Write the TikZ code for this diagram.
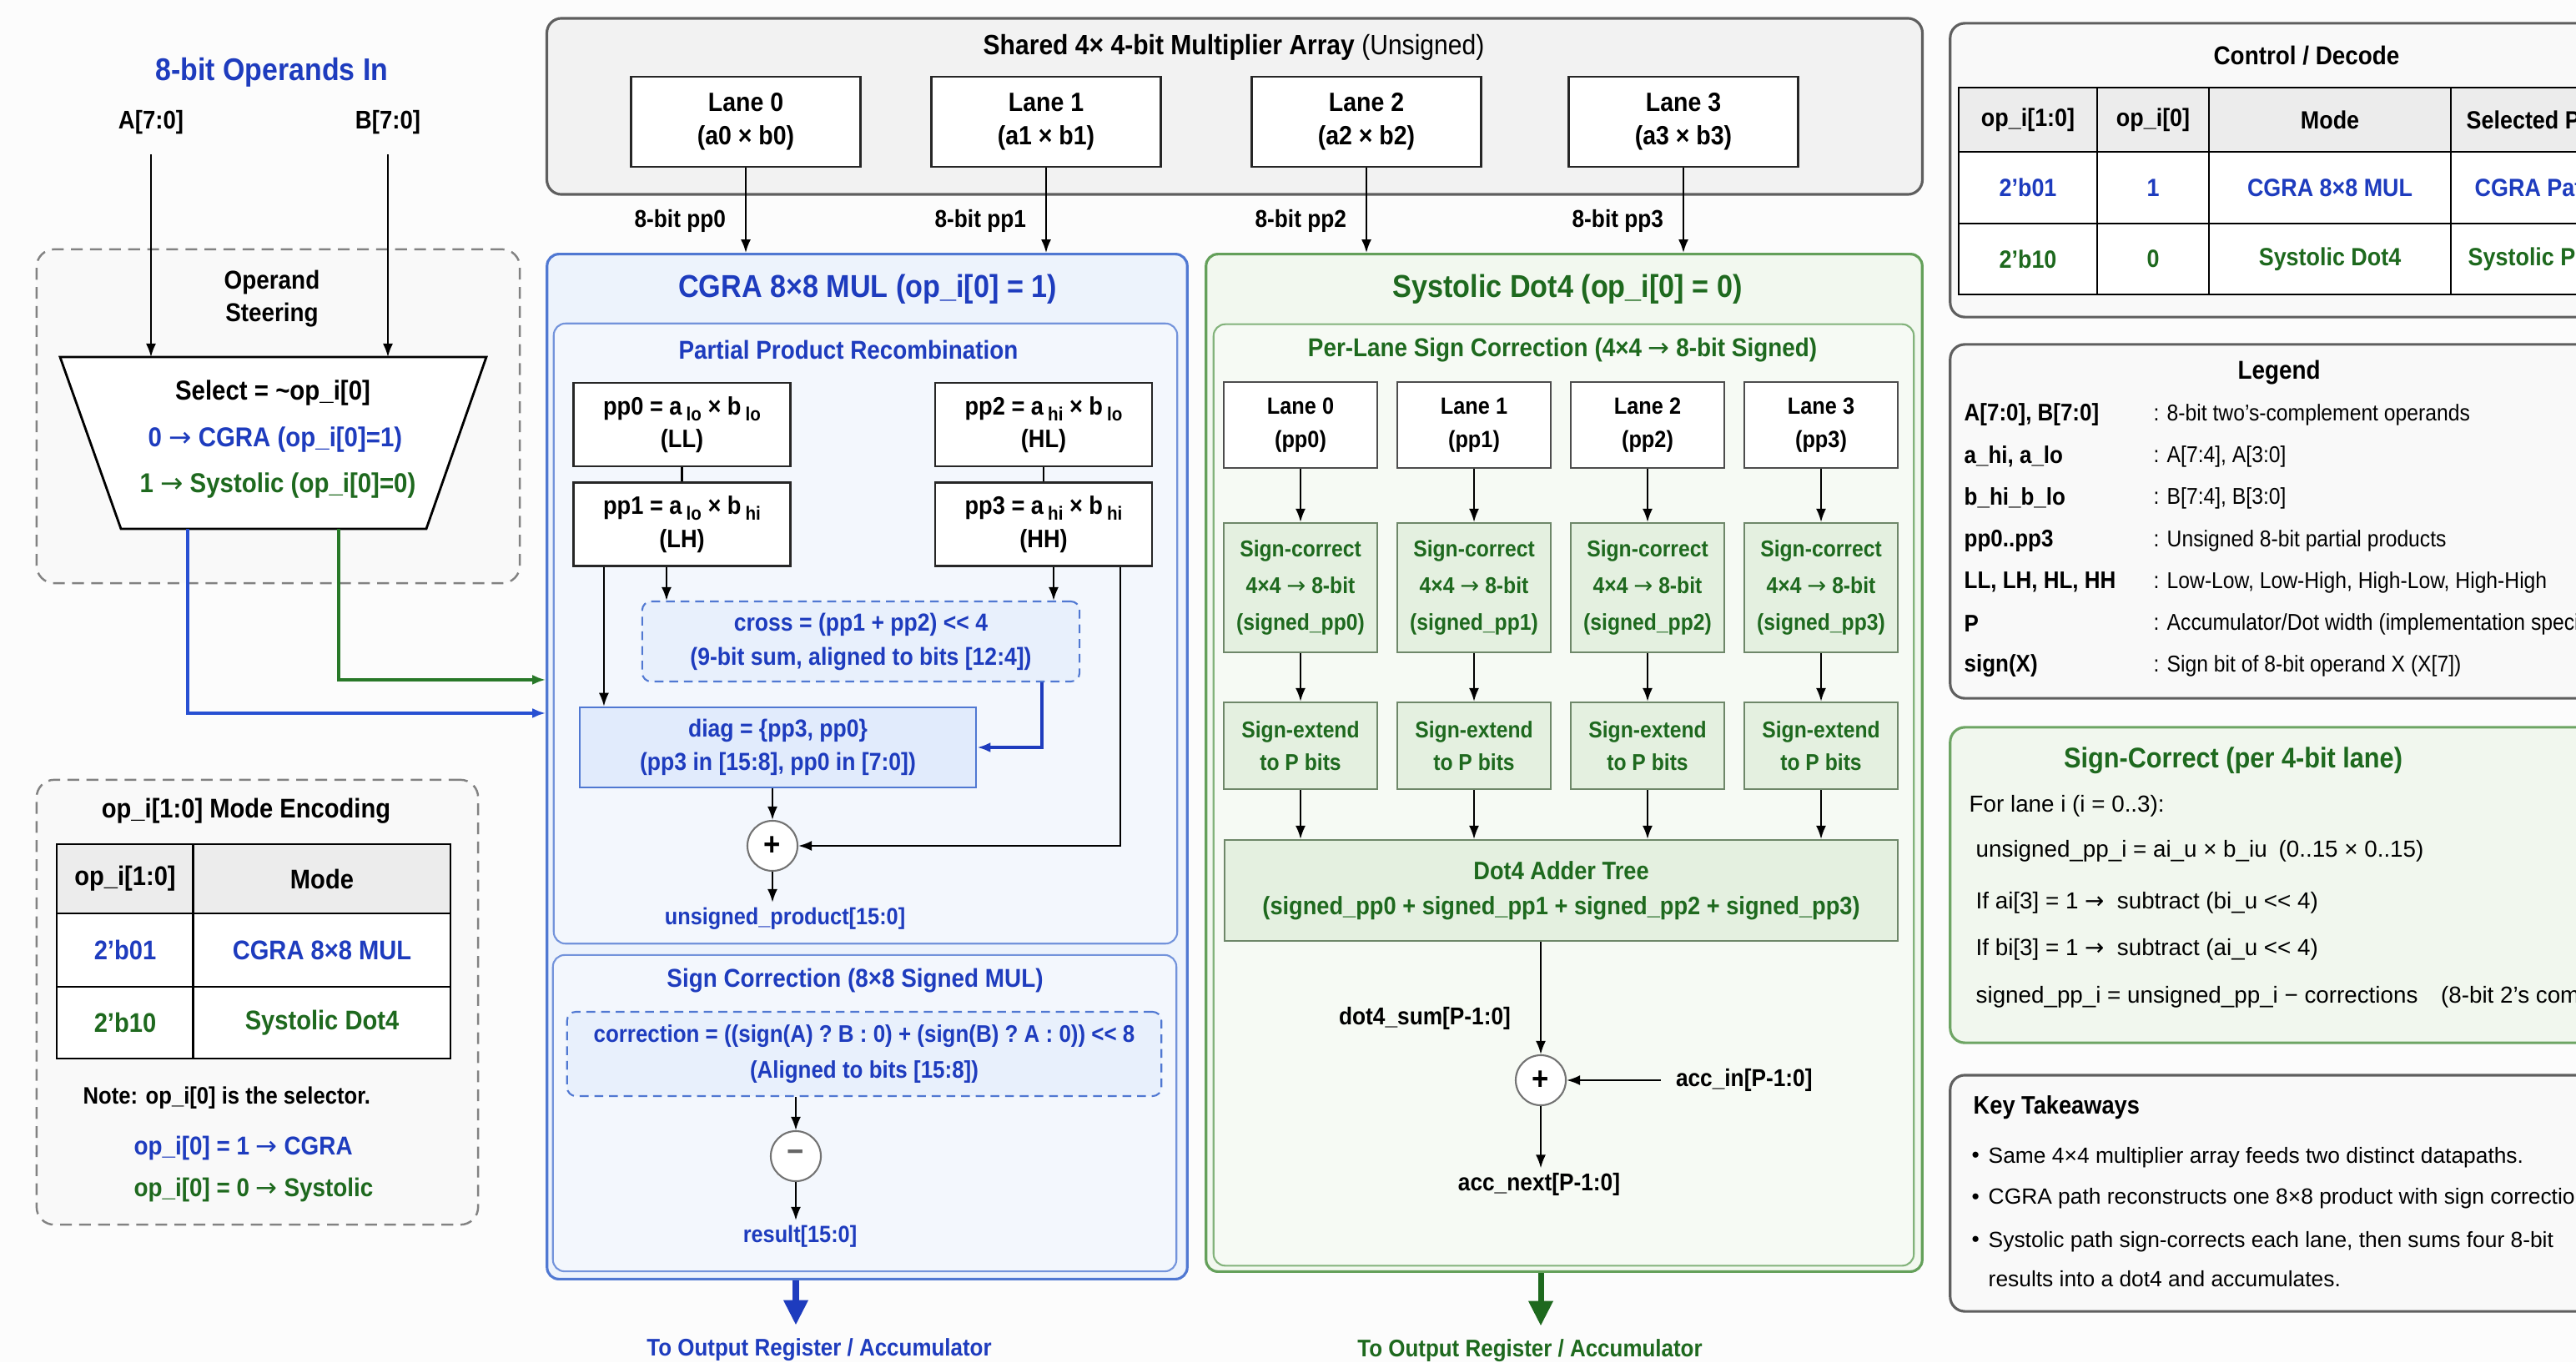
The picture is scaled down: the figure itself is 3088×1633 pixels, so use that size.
\documentclass[tikz,border=0pt]{standalone}
\usepackage{fontspec}
\setmainfont{Liberation Sans}[FakeStretch=0.9]
\newfontfamily\bodyfont{Liberation Sans}
\newfontfamily\arrowfont{DejaVu Sans}
\usetikzlibrary{arrows.meta,positioning,calc}

\definecolor{bgColor}{RGB}{252,252,252}
\definecolor{cgraBlue}{RGB}{30,60,190}
\definecolor{dotGreen}{RGB}{30,105,30}
\definecolor{cgraLine}{RGB}{80,120,210}
\definecolor{cgraFill}{RGB}{237,243,252}
\definecolor{cgraInFill}{RGB}{243,247,253}
\definecolor{crossFill}{RGB}{232,240,252}
\definecolor{diagFill}{RGB}{225,235,252}
\definecolor{sysLine}{RGB}{100,160,90}
\definecolor{sysFill}{RGB}{242,248,239}
\definecolor{sysInFill}{RGB}{246,250,244}
\definecolor{sBoxLine}{RGB}{110,135,105}
\definecolor{sBoxFill}{RGB}{228,240,224}
\definecolor{panelLine}{RGB}{95,95,95}
\definecolor{arrayFill}{RGB}{242,242,242}
\definecolor{sideFill}{RGB}{249,249,249}
\definecolor{dashLine}{RGB}{130,130,130}
\definecolor{headFill}{RGB}{236,236,236}
\definecolor{scLine}{RGB}{110,165,100}
\definecolor{scFill}{RGB}{241,247,238}
\definecolor{selBlue}{RGB}{40,80,210}
\definecolor{selGreen}{RGB}{40,120,40}

\newcommand{\lsub}[1]{\,\raisebox{-0.45ex}{\fontsize{6.5}{7}\selectfont #1}}
\newcommand{\shl}{<\kern0pt<}
\newcommand{\rarr}{{\arrowfont\mdseries →}}

\tikzset{
  every node/.style={inner sep=0pt, font=\fontsize{8.5}{11}\selectfont\bfseries},
  lbl/.style={inner sep=1.5pt},
  grayPanel/.style={draw=panelLine, fill=arrayFill, line width=0.9pt, rounded corners=5pt},
  sidePanel/.style={draw=panelLine, fill=sideFill, line width=0.9pt, rounded corners=5pt},
  dashPanel/.style={draw=dashLine, fill=sideFill, line width=0.7pt, dash pattern=on 4pt off 2.5pt, rounded corners=6pt},
  cgraPanel/.style={draw=cgraLine, fill=cgraFill, line width=0.9pt, rounded corners=4pt},
  cgraInner/.style={draw=cgraLine!80, fill=cgraInFill, line width=0.6pt, rounded corners=4pt},
  sysPanel/.style={draw=sysLine, fill=sysFill, line width=0.9pt, rounded corners=4pt},
  sysInner/.style={draw=sysLine!80, fill=sysInFill, line width=0.6pt, rounded corners=4pt},
  laneBox/.style={draw=black!85, fill=white, line width=0.7pt, align=center, minimum width=2.75cm, minimum height=1.08cm, font=\fontsize{9}{11.4}\selectfont\bfseries},
  ppBox/.style={draw=black!85, fill=white, line width=0.7pt, align=center, minimum width=2.6cm, minimum height=1cm, font=\fontsize{8.6}{11.2}\selectfont\bfseries},
  eqBox/.style={draw=cgraLine, fill=crossFill, dash pattern=on 3pt off 2pt, line width=0.6pt, rounded corners=3pt, align=center, text=cgraBlue, font=\fontsize{8.4}{11.7}\selectfont\bfseries},
  diagBox/.style={draw=cgraLine, fill=diagFill, line width=0.7pt, align=center, text=cgraBlue, font=\fontsize{8.4}{11.4}\selectfont\bfseries},
  sLane/.style={draw=black!70, fill=white, line width=0.6pt, align=center, minimum width=1.84cm, minimum height=1.03cm, font=\fontsize{8}{11.5}\selectfont\bfseries},
  sBox/.style={draw=sBoxLine, fill=sBoxFill, line width=0.6pt, align=center, minimum width=1.84cm, text=dotGreen, font=\fontsize{7.8}{12.6}\selectfont\bfseries},
  sumNode/.style={circle, draw=black!55, fill=white, line width=0.6pt, minimum size=0.6cm, font=\fontsize{11}{11}\selectfont\bfseries},
  flow/.style={-{Latex[length=1.6mm,width=1.2mm]}, line width=0.6pt},
  cgraFlow/.style={flow, draw=cgraBlue, line width=1pt},
  selFlowB/.style={flow, draw=selBlue, line width=0.9pt},
  selFlowG/.style={flow, draw=selGreen, line width=0.9pt},
  outFlow/.style={-{Triangle[length=3mm,width=2.8mm]}, line width=2pt},
  cell/.style={font=\fontsize{9.2}{11}\selectfont\bfseries},
  ctrlCell/.style={font=\fontsize{8.5}{10}\selectfont\bfseries},
  legKey/.style={anchor=west, font=\fontsize{8.2}{10}\selectfont\bfseries},
  legVal/.style={anchor=west, font=\fontsize{7.8}{10}\selectfont\mdseries},
  bodyText/.style={anchor=west, font=\bodyfont\fontsize{7.9}{10}\selectfont},
  ktText/.style={anchor=west, font=\bodyfont\fontsize{7.5}{10}\selectfont},
}

\begin{document}
\begin{tikzpicture}[x=0.01cm,y=-0.01cm]
  % page and background
  \useasboundingbox (0,0) rectangle (3088,1633);
  \clip (0,0) rectangle (3088,1633);
  \fill[bgColor] (0,0) rectangle (3088,1633);

  % Shared multiplier array
  \node[grayPanel, minimum width=16.48cm, minimum height=2.11cm] (mulArray) at (1480,127.5) {};
  \node[font=\fontsize{9.5}{11}\selectfont\bfseries] (arrayTitle) at (1479,57) {Shared 4× 4-bit Multiplier Array {\mdseries (Unsigned)}};
  \node[laneBox] (lane0) at (894,146) {Lane 0\\(a0 × b0)};
  \node[laneBox] (lane1) at (1254,146) {Lane 1\\(a1 × b1)};
  \node[laneBox] (lane2) at (1638,146) {Lane 2\\(a2 × b2)};
  \node[laneBox] (lane3) at (2018,146) {Lane 3\\(a3 × b3)};

  % CGRA datapath
  \node[cgraPanel, minimum width=7.67cm, minimum height=12.28cm] (cgra) at (1039.5,919) {};
  \node[text=cgraBlue, font=\fontsize{10.8}{13}\selectfont\bfseries] (cgraTitle) at (1040,347) {CGRA 8×8 MUL (op\_i[0] = 1)};
  \node[cgraInner, minimum width=7.47cm, minimum height=7.43cm] (ppr) at (1037.5,759.5) {};
  \node[text=cgraBlue, font=\fontsize{8.8}{11}\selectfont\bfseries] (pprTitle) at (1017,419) {Partial Product Recombination};
  \node[ppBox] (pp0) at (817.5,509) {pp0 = a\lsub{lo} × b\lsub{lo}\\(LL)};
  \node[ppBox] (pp1) at (817.5,628.5) {pp1 = a\lsub{lo} × b\lsub{hi}\\(LH)};
  \node[ppBox] (pp2) at (1251,509) {pp2 = a\lsub{hi} × b\lsub{lo}\\(HL)};
  \node[ppBox] (pp3) at (1251,628.5) {pp3 = a\lsub{hi} × b\lsub{hi}\\(HH)};
  \node[eqBox, minimum width=5.24cm, minimum height=0.96cm] (cross) at (1032,769) {cross = (pp1 + pp2) \shl{} 4\\(9-bit sum, aligned to bits [12:4])};
  \node[diagBox, minimum width=4.75cm, minimum height=0.96cm] (diag) at (932.5,896) {diag = \{pp3, pp0\}\\(pp3 in [15:8], pp0 in [7:0])};
  \node[sumNode] (sumU) at (926,1014) {+};
  \node[lbl, text=cgraBlue, font=\fontsize{8}{10}\selectfont\bfseries] (uProd) at (941,1101) {unsigned\_product[15:0]};

  \draw[line width=0.6pt] (pp0) -- (pp1);
  \draw[line width=0.6pt] (pp2) -- (pp3);
  \coordinate (ppTapA) at ([xshift=-9.35mm]pp1.south);
  \coordinate (ppTapB) at ([xshift=-1.85mm]pp1.south);
  \coordinate (ppTapC) at ([xshift=1.2mm]pp3.south);
  \coordinate (ppTapD) at ([xshift=9.2mm]pp3.south);
  \coordinate (crossTap) at ([xshift=21.7mm]cross.south);
  \draw[flow] (ppTapA) -- (ppTapA |- diag.north);
  \draw[flow] (ppTapB) -- (ppTapB |- cross.north);
  \draw[flow] (ppTapC) -- (ppTapC |- cross.north);
  \draw[flow] (ppTapD) |- (sumU.east);
  \draw[cgraFlow] (crossTap) |- (diag.east);
  \draw[flow] (sumU |- diag.south) -- (sumU.north);
  \draw[flow] (sumU.south) -- (sumU.south |- uProd.north);

  % CGRA sign correction
  \node[cgraInner, minimum width=7.47cm, minimum height=3.79cm] (signCor) at (1036.5,1334.5) {};
  \node[text=cgraBlue, font=\fontsize{8.8}{11}\selectfont\bfseries] (signCorTitle) at (1025,1176) {Sign Correction (8×8 Signed MUL)};
  \node[eqBox, minimum width=7.12cm, minimum height=1.01cm, font=\fontsize{8.2}{12}\selectfont\bfseries] (corr) at (1036,1263.5) {correction = ((sign(A) ? B : 0) + (sign(B) ? A : 0)) \shl{} 8\\(Aligned to bits [15:8])};
  \node[sumNode, text=black!60] (subC) at (954,1386) {−};
  \node[lbl, text=cgraBlue, font=\fontsize{8}{10}\selectfont\bfseries] (result) at (959,1482) {result[15:0]};
  \draw[flow] (subC |- corr.south) -- (subC.north);
  \draw[flow] (subC.south) -- (subC.south |- result.north);
  \node[lbl, text=cgraBlue, font=\fontsize{8.2}{10}\selectfont\bfseries] (cgraOut) at (982,1618) {To Output Register / Accumulator};
  \draw[outFlow, draw=cgraBlue, fill=cgraBlue, shorten >=1mm] (subC |- cgra.south) -- (subC |- cgraOut.north);

  % Systolic datapath
  \node[sysPanel, minimum width=8.58cm, minimum height=12.19cm] (sys) at (1875,914.5) {};
  \node[text=dotGreen, font=\fontsize{10.8}{13}\selectfont\bfseries] (sysTitle) at (1879,347) {Systolic Dot4 (op\_i[0] = 0)};
  \node[sysInner, minimum width=8.39cm, minimum height=11.28cm] (perLane) at (1874.5,953) {};
  \node[text=dotGreen, font=\fontsize{8.8}{11}\selectfont\bfseries] (perLaneTitle) at (1873,420) {Per-Lane Sign Correction (4×4 \rarr{} 8-bit Signed)};
  \node[sBox, minimum width=8.07cm, minimum height=1.21cm, font=\fontsize{8.6}{12}\selectfont\bfseries] (dot4) at (1871.5,1067.5) {Dot4 Adder Tree\\(signed\_pp0 + signed\_pp1 + signed\_pp2 + signed\_pp3)};
  \foreach \i in {0,...,3} {
    \node[sLane] (sLane\i) at ({1559+208*\i},509.5) {Lane \i\\(pp\i)};
    \node[sBox, minimum height=1.55cm] (sCorr\i) at ({1559+208*\i},704.5) {Sign-correct\\4×4 \rarr{} 8-bit\\(signed\_pp\i)};
    \node[sBox, minimum height=1.04cm, font=\fontsize{7.8}{11}\selectfont\bfseries] (sExt\i) at ({1559+208*\i},894) {Sign-extend\\to P bits};
    \draw[flow] (sLane\i) -- (sCorr\i);
    \draw[flow] (sCorr\i) -- (sExt\i);
    \draw[flow] (sExt\i) -- (sExt\i |- dot4.north);
  }
  \node[sumNode] (sumAcc) at (1847,1295) {+};
  \node[lbl, font=\fontsize{8.3}{10}\selectfont\bfseries] (dotSum) at (1708,1221) {dot4\_sum[P-1:0]};
  \node[lbl, anchor=west, font=\fontsize{8.3}{10}\selectfont\bfseries] (accIn) at (2003,1295) {acc\_in[P-1:0]};
  \node[lbl, font=\fontsize{8.3}{10}\selectfont\bfseries] (accNext) at (1845,1420) {acc\_next[P-1:0]};
  \draw[flow] (sumAcc |- dot4.south) -- (sumAcc.north);
  \draw[flow, shorten <=1.2mm] (accIn.west) -- (sumAcc.east);
  \draw[flow] (sumAcc.south) -- (sumAcc.south |- accNext.north);
  \node[lbl, text=dotGreen, font=\fontsize{8.2}{10}\selectfont\bfseries] (sysOut) at (1834,1619) {To Output Register / Accumulator};
  \draw[outFlow, draw=dotGreen, fill=dotGreen, shorten >=1mm] (sumAcc |- sys.south) -- (sumAcc |- sysOut.north);

  % Lane outputs
  \foreach \l/\t in {lane0/cgra, lane1/cgra, lane2/sys, lane3/sys}
    \draw[flow] (\l.south) -- (\l.south |- \t.north);
  \node[lbl, anchor=east, font=\fontsize{8.3}{10}\selectfont\bfseries] (ppLbl0) at (876,265) {8-bit pp0};
  \node[lbl, anchor=east, font=\fontsize{8.3}{10}\selectfont\bfseries] (ppLbl1) at (1236,265) {8-bit pp1};
  \node[lbl, anchor=east, font=\fontsize{8.3}{10}\selectfont\bfseries] (ppLbl2) at (1620,265) {8-bit pp2};
  \node[lbl, anchor=east, font=\fontsize{8.3}{10}\selectfont\bfseries] (ppLbl3) at (2000,265) {8-bit pp3};

  % Operand steering
  \node[text=cgraBlue, font=\fontsize{10.7}{13}\selectfont\bfseries] (opIn) at (326,87) {8-bit Operands In};
  \node[lbl, font=\fontsize{8.7}{10}\selectfont\bfseries] (aIn) at (181,147) {A[7:0]};
  \node[lbl, font=\fontsize{8.7}{10}\selectfont\bfseries] (bIn) at (465,147) {B[7:0]};
  \node[dashPanel, minimum width=5.79cm, minimum height=4cm] (steer) at (333.5,499) {};
  \node[align=center, font=\fontsize{8.8}{11}\selectfont\bfseries] (steerTitle) at (326,358) {Operand\\Steering};
  \coordinate (muxTL) at (72,428);
  \coordinate (muxTR) at (583,428);
  \coordinate (muxBR) at (511,634);
  \coordinate (muxBL) at (145,634);
  \draw[fill=white, line width=0.8pt] (muxTL) -- (muxTR) -- (muxBR) -- (muxBL) -- cycle;
  \node[font=\fontsize{9.3}{11}\selectfont\bfseries] (muxSel) at (327,471) {Select = \textasciitilde op\_i[0]};
  \node[text=cgraBlue, font=\fontsize{9.3}{11}\selectfont\bfseries] (muxCgra) at (330,527) {0 \rarr{} CGRA (op\_i[0]=1)};
  \node[text=dotGreen, font=\fontsize{9.3}{11}\selectfont\bfseries] (muxSys) at (333,582) {1 \rarr{} Systolic (op\_i[0]=0)};
  \draw[flow, shorten <=1.8mm] (aIn.south) -- (aIn.south |- muxTL);
  \draw[flow, shorten <=1.8mm] (bIn.south) -- (bIn.south |- muxTL);
  \coordinate (selCgra) at (225,634);
  \coordinate (selSys) at (406,634);
  \coordinate (cgraInB) at ([yshift=6.4mm]cgra.west);
  \coordinate (cgraInG) at ([yshift=10.4mm]cgra.west);
  \draw[selFlowB] (selCgra) |- (cgraInB);
  \draw[selFlowG] (selSys) |- (cgraInG);

  % Mode encoding table
  \node[dashPanel, minimum width=5.29cm, minimum height=5.33cm] (modeEnc) at (308.5,1201.5) {};
  \node[font=\fontsize{9.2}{11}\selectfont\bfseries] (modeTitle) at (295,972) {op\_i[1:0] Mode Encoding};
  \fill[headFill] (68,1012) rectangle (540,1095);
  \fill[white] (68,1095) rectangle (540,1269);
  \draw[line width=0.8pt] (68,1012) rectangle (540,1269);
  \draw[line width=0.8pt] (68,1095) -- (540,1095) (68,1183) -- (540,1183) (231.5,1012) -- (231.5,1269);
  \node[cell] (modeH1) at (150,1053.5) {op\_i[1:0]};
  \node[cell] (modeH2) at (386,1053.5) {Mode};
  \node[cell, text=cgraBlue] (modeA1) at (150,1139) {2’b01};
  \node[cell, text=cgraBlue] (modeA2) at (386,1139) {CGRA 8×8 MUL};
  \node[cell, text=dotGreen] (modeB1) at (150,1226) {2’b10};
  \node[cell, text=dotGreen] (modeB2) at (386,1226) {Systolic Dot4};
  \node[anchor=west, font=\fontsize{8.1}{10}\selectfont\bfseries] (modeNote) at (99,1316) {Note: op\_i[0] is the selector.};
  \node[anchor=west, text=cgraBlue, font=\fontsize{8.8}{10}\selectfont\bfseries] (modeSelA) at (160,1376) {op\_i[0] = 1 \rarr{} CGRA};
  \node[anchor=west, text=dotGreen, font=\fontsize{8.8}{10}\selectfont\bfseries] (modeSelB) at (160,1426) {op\_i[0] = 0 \rarr{} Systolic};

  % Control / Decode
  \node[sidePanel, minimum width=8.22cm, minimum height=3.52cm] (ctrl) at (2749,204) {};
  \node[font=\fontsize{8.8}{11}\selectfont\bfseries] (ctrlTitle) at (2765,67) {Control / Decode};
  \fill[headFill] (2348,105) rectangle (3160,182);
  \fill[white] (2348,182) rectangle (3160,353);
  \draw[line width=0.8pt] (2348,105) rectangle (3160,353);
  \draw[line width=0.8pt] (2348,182) -- (3160,182) (2348,268) -- (3160,268);
  \foreach \cx in {2514,2648,2938} \draw[line width=0.8pt] (\cx,105) -- (\cx,353);
  \node[ctrlCell] (ctrlH1) at (2431,143.5) {op\_i[1:0]};
  \node[ctrlCell] (ctrlH2) at (2581,143.5) {op\_i[0]};
  \node[ctrlCell] (ctrlH3) at (2793,143.5) {Mode};
  \node[ctrlCell, anchor=west] (ctrlH4) at (2956,143.5) {Selected Path};
  \node[ctrlCell, text=cgraBlue] (ctrlA1) at (2431,225) {2’b01};
  \node[ctrlCell, text=cgraBlue] (ctrlA2) at (2581,225) {1};
  \node[ctrlCell, text=cgraBlue] (ctrlA3) at (2793,225) {CGRA 8×8 MUL};
  \node[ctrlCell, text=cgraBlue, anchor=west] (ctrlA4) at (2966,225) {CGRA Path};
  \node[ctrlCell, text=dotGreen] (ctrlB1) at (2431,310.5) {2’b10};
  \node[ctrlCell, text=dotGreen] (ctrlB2) at (2581,310.5) {0};
  \node[ctrlCell, text=dotGreen] (ctrlB3) at (2793,310.5) {Systolic Dot4};
  \node[ctrlCell, text=dotGreen, anchor=west] (ctrlB4) at (2958,310.5) {Systolic Path};

  % Legend
  \node[sidePanel, minimum width=8.22cm, minimum height=4.24cm] (legend) at (2749,625) {};
  \node[font=\fontsize{8.8}{11}\selectfont\bfseries] (legTitle) at (2732,447) {Legend};
  \node[legKey] (legK1) at (2354,497) {A[7:0], B[7:0]};
  \node[legVal] (legV1) at (2581,497) {: 8-bit two's-complement operands};
  \node[legKey] (legK2) at (2354,547) {a\_hi, a\_lo};
  \node[legVal] (legV2) at (2581,547) {: A[7:4], A[3:0]};
  \node[legKey] (legK3) at (2354,597) {b\_hi\_b\_lo};
  \node[legVal] (legV3) at (2581,597) {: B[7:4], B[3:0]};
  \node[legKey] (legK4) at (2354,648) {pp0..pp3};
  \node[legVal] (legV4) at (2581,648) {: Unsigned 8-bit partial products};
  \node[legKey] (legK5) at (2354,698) {LL, LH, HL, HH};
  \node[legVal] (legV5) at (2581,698) {: Low-Low, Low-High, High-Low, High-High};
  \node[legKey] (legK6) at (2354,748) {P};
  \node[legVal] (legV6) at (2581,748) {: Accumulator/Dot width (implementation specific)};
  \node[legKey] (legK7) at (2354,798) {sign(X)};
  \node[legVal] (legV7) at (2581,798) {: Sign bit of 8-bit operand X (X[7])};

  % Sign-correct note
  \node[draw=scLine, fill=scFill, line width=0.9pt, rounded corners=5pt, minimum width=8.22cm, minimum height=3.78cm] (scNote) at (2749,1061) {};
  \node[text=dotGreen, font=\fontsize{9.7}{11}\selectfont\bfseries] (scTitle) at (2677,912) {Sign-Correct (per 4-bit lane)};
  \node[bodyText] (scLine1) at (2360,966) {For lane i (i = 0..3):};
  \node[bodyText] (scLine2) at (2368,1020) {unsigned\_pp\_i = ai\_u × b\_iu\enspace (0..15 × 0..15)};
  \node[bodyText] (scLine3) at (2368,1082) {If ai[3] = 1 \rarr\ \ subtract (bi\_u \shl{} 4)};
  \node[bodyText] (scLine4) at (2368,1138) {If bi[3] = 1 \rarr\ \ subtract (ai\_u \shl{} 4)};
  \node[bodyText] (scLine5) at (2368,1195) {signed\_pp\_i = unsigned\_pp\_i − corrections\quad(8-bit 2’s complement)};

  % Key takeaways
  \node[sidePanel, minimum width=8.22cm, minimum height=2.83cm] (keyTk) at (2749,1430.5) {};
  \node[anchor=west, font=\fontsize{8.6}{11}\selectfont\bfseries] (keyTitle) at (2365,1328) {Key Takeaways};
  \node[ktText] (keyDot1) at (2363,1387.5) {•};
  \node[ktText] (keyTxt1) at (2383,1387.5) {Same 4×4 multiplier array feeds two distinct datapaths.};
  \node[ktText] (keyDot2) at (2363,1437) {•};
  \node[ktText] (keyTxt2) at (2383,1437) {CGRA path reconstructs one 8×8 product with sign correction.};
  \node[ktText] (keyDot3) at (2363,1488.6) {•};
  \node[ktText] (keyTxt3) at (2383,1488.6) {Systolic path sign-corrects each lane, then sums four 8-bit};
  \node[ktText] (keyTxt4) at (2383,1533) {results into a dot4 and accumulates.};
\end{tikzpicture}
\end{document}
